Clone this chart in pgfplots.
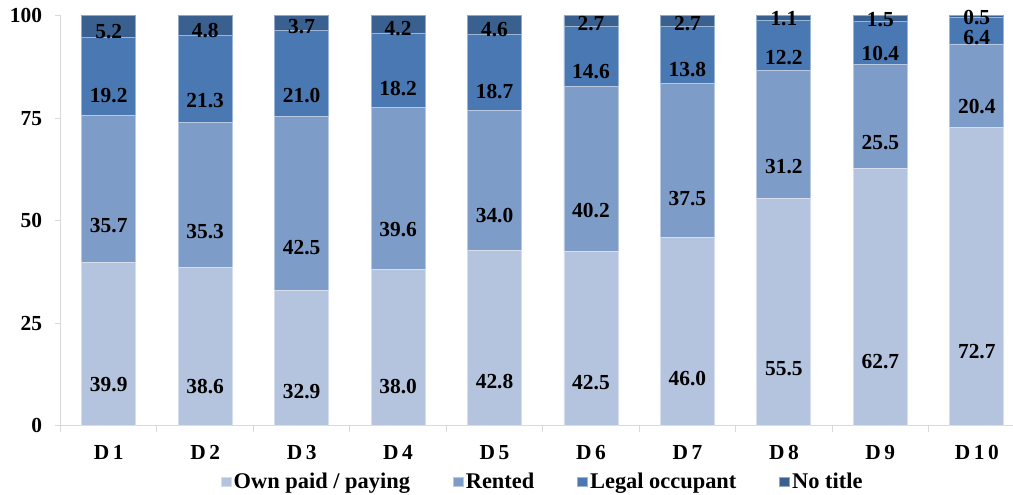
\documentclass[border=0pt]{standalone}
\usepackage{fontspec}
\setmainfont{Liberation Serif}
\usepackage{pgfplots}
\usepackage{pgfplotstable}
\pgfplotsset{compat=1.18}

\definecolor{ownc}{RGB}{180,195,222}
\definecolor{rentc}{RGB}{126,156,200}
\definecolor{legalc}{RGB}{74,120,178}
\definecolor{nonec}{RGB}{58,96,144}
\definecolor{axc}{RGB}{217,217,217}

% Housing tenure by decile (percent of households)
\pgfplotstableread{
x own  rent  legal none
0 39.9 35.7  19.2  5.2
1 38.6 35.3  21.3  4.8
2 32.9 42.5  21.0  3.7
3 38.0 39.6  18.2  4.2
4 42.8 34.0  18.7  4.6
5 42.5 40.2  14.6  2.7
6 46.0 37.5  13.8  2.7
7 55.5 31.2  12.2  1.1
8 62.7 25.5  10.4  1.5
9 72.7 20.4   6.4  0.5
}\tenure

\begin{document}
\begin{tikzpicture}
\begin{axis}[
  name=ax,
  scale only axis,
  width=964.5bp, height=410.41bp,
  ybar stacked, bar width=54bp,
  xmin=-0.5, xmax=9.5, ymin=0, ymax=100.1,
  font=\fontsize{21.5}{24}\selectfont\bfseries,
  /pgf/number format/assume math mode=true,
  axis x line*=bottom, axis y line*=left,
  axis line style={draw=axc, line width=1bp, -},
  tick style={draw=axc, line width=1bp},
  tick align=outside,
  xtick={0,...,9},
  xticklabels={D\,1,D\,2,D\,3,D\,4,D\,5,D\,6,D\,7,D\,8,D\,9,D\,1\,0},
  major x tick style={draw=none},
  minor xtick={-0.5,0.5,...,9.5},
  minor tick length=6bp,
  major tick length=6bp,
  ytick={0,25,50,75,100},
  yticklabel style={xshift=-9bp},
  xticklabel style={yshift=-10bp},
  enlarge x limits=false,
  clip=true,
  nodes near coords={\pgfmathprintnumber[fixed,fixed zerofill,precision=1]{\rawy}},
  every node near coord/.append style={anchor=center, text=black,
     font=\fontsize{21.5}{24}\selectfont\bfseries, yshift=-1.025bp*\rawy},
  legend columns=4,
  legend style={draw=none, at={(0.5,0)}, anchor=center, yshift=-56bp,
     font=\fontsize{22.5}{24}\selectfont\bfseries,
     /tikz/every even column/.append style={column sep=41bp},
     nodes={inner sep=2bp}},
  legend image code/.code={\fill[#1] (0bp,-4.75bp) rectangle (10bp,4.75bp);},
]
\addplot[fill=ownc, draw=white!45!ownc, line width=0.8bp,
  visualization depends on={\thisrow{own} \as \rawy}]
  table[x=x, y=own] {\tenure};
\addplot[fill=rentc, draw=white!45!rentc, line width=0.8bp,
  visualization depends on={\thisrow{rent} \as \rawy}]
  table[x=x, y=rent] {\tenure};
\addplot[fill=legalc, draw=white!45!legalc, line width=0.8bp,
  visualization depends on={\thisrow{legal} \as \rawy}]
  table[x=x, y=legal] {\tenure};
\addplot[fill=nonec, draw=white!45!nonec, line width=0.8bp,
  visualization depends on={\thisrow{none} \as \rawy}]
  table[x=x, y=none] {\tenure};
\legend{Own paid / paying, Rented, Legal occupant, No title}
\end{axis}
\pgfresetboundingbox
\path[use as bounding box] ([xshift=-60.5bp,yshift=-69.3bp]ax.south west)
  rectangle ([xshift=952.5bp,yshift=425.7bp]ax.south west);
\end{tikzpicture}
\end{document}
